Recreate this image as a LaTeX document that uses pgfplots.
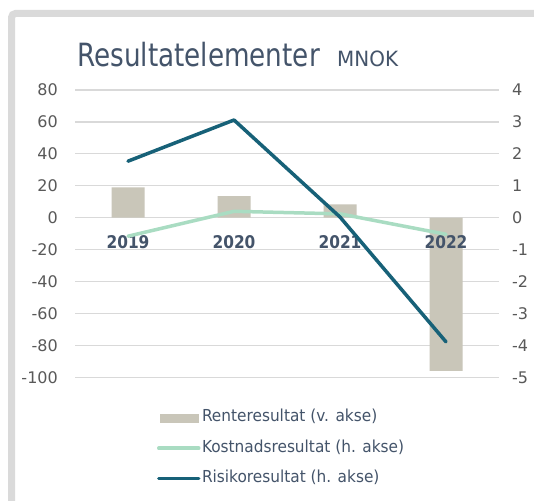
\documentclass[border=0pt]{standalone}
\usepackage{fontspec}
\setmainfont{DejaVu Sans}
\newfontfamily\narrowfont{DejaVu Sans}[FakeStretch=0.88]
\newfontfamily\titlefont{DejaVu Sans}[FakeStretch=0.82]
\newfontfamily\unitfont{DejaVu Sans}[FakeStretch=0.95]
\newfontfamily\legfont{DejaVu Sans}[FakeStretch=0.93]
\usepackage{pgfplots}
\pgfplotsset{compat=1.18}
\definecolor{slate}{HTML}{44546A}
\definecolor{tickgray}{HTML}{595959}
\definecolor{gridgray}{HTML}{D9D9D9}
\definecolor{framegray}{HTML}{DADADA}
\definecolor{barfill}{HTML}{C9C6B9}
\definecolor{kost}{HTML}{A9DCC2}
\definecolor{risk}{HTML}{176178}
\begin{document}
\begin{tikzpicture}[x=1pt,y=1pt]
\useasboundingbox (0,0) rectangle (534,500);
\clip (0,0) rectangle (534,500);
\fill[white] (0,0) rectangle (534,500);
\draw[framegray, line width=7pt, rounded corners=4pt] (11.5,-50) -- (11.5,486.5) -- (600,486.5);
\node[anchor=base west, inner sep=0pt, text=slate, font={\titlefont\fontsize{32}{36}\selectfont}] at (77,433.3) {Resultatelementer};
\node[anchor=base west, inner sep=0pt, text=slate, font={\unitfont\fontsize{21}{24}\selectfont}] at (337,433.3) {MNOK};
\begin{axis}[
  at={(75pt,122.7pt)}, anchor=south west,
  width=424pt, height=287.3pt, scale only axis,
  xmin=-0.5, xmax=3.5, ymin=-100, ymax=80,
  ytick={-100,-80,...,80}, xtick=\empty,
  axis line style={draw=none}, major tick length=0pt,
  ymajorgrids, grid style={gridgray, line width=1.2pt},
  /pgf/number format/assume math mode=true,
  yticklabel style={font={\fontsize{16}{18}\selectfont}, text=tickgray, inner sep=0pt, anchor=east, xshift=-17pt},
  clip=false,
]
\addplot[ybar, bar width=33pt, fill=barfill, draw=none] coordinates {(0,19) (1,13.5) (2,8.3) (3,-96)};
\foreach \i/\lab in {0/2019,1/2020,2/2021,3/2022} {
  \edef\temp{\noexpand\node[anchor=base, inner sep=0pt, text=slate, font={\noexpand\narrowfont\noexpand\bfseries\noexpand\fontsize{17.5}{20}\noexpand\selectfont}] at (axis cs:\i,0) [yshift=-31pt] {\lab};}
  \temp
}
\end{axis}
\begin{axis}[
  at={(75pt,122.7pt)}, anchor=south west,
  width=424pt, height=287.3pt, scale only axis,
  xmin=-0.5, xmax=3.5, ymin=-5, ymax=4,
  ytick={-5,-4,...,4}, xtick=\empty,
  axis y line*=right, axis x line=none,
  axis line style={draw=none}, major tick length=0pt,
  /pgf/number format/assume math mode=true,
  yticklabel style={font={\fontsize{16}{18}\selectfont}, text=tickgray, inner sep=0pt, anchor=west, xshift=13pt},
  legend style={at={(0.1934,-0.1128)}, anchor=north west, draw=none, fill=none, inner sep=0pt, outer sep=0pt,
    font={\legfont\fontsize{16.5}{19}\selectfont}, text=slate, row sep=14.5pt,
    nodes={inner sep=0pt, text height=12pt, text depth=4pt}},
  legend cell align=left,
  legend image code/.code={\draw[#1, line cap=round] (0pt,0pt) -- (40pt,0pt);},
  clip=false,
]
\addlegendimage{legend image code/.code={\fill[barfill] (1pt,-4pt) rectangle (39pt,4pt);}}
\addlegendentry{\hspace{1.5pt}Renteresultat (v. akse)}
\addplot[kost, line width=3.5pt, line join=round, line cap=round] coordinates {(0,-0.58) (1,0.2) (2,0.12) (3,-0.52)};
\addlegendentry{\hspace{1.5pt}Kostnadsresultat (h. akse)}
\addplot[risk, line width=3.5pt, line join=round, line cap=round] coordinates {(0,1.77) (1,3.06) (2,0.02) (3,-3.89)};
\addlegendentry{\hspace{1.5pt}Risikoresultat (h. akse)}
\end{axis}
\end{tikzpicture}
\end{document}
